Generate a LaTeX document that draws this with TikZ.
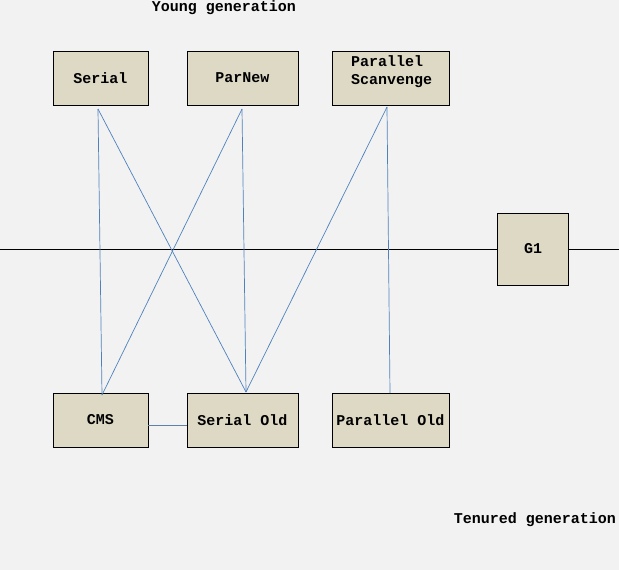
\documentclass[tikz,border=0pt]{standalone}
\usepackage{fontspec}
\setmainfont{Liberation Mono}
\begin{document}
\begin{tikzpicture}[x=1pt,y=-1pt,
  box/.style={draw=black,fill=boxfill,line width=0.8pt,inner sep=0pt,font=\bfseries\fontsize{15}{18}\selectfont},
  link/.style={draw=linkblue,line width=0.7pt},
  lbl/.style={font=\bfseries\fontsize{15}{18}\selectfont,inner sep=0pt}]
\definecolor{boxfill}{HTML}{DDD9C4}
\definecolor{linkblue}{HTML}{4F81BD}
\definecolor{bg}{HTML}{F2F2F2}
\fill[bg] (0,0) rectangle (619,570);
\useasboundingbox (0,0) rectangle (619,570);
% horizontal divider
\coordinate (lft) at (0,249);
\coordinate (rgt) at (619,249);
\node[box,minimum width=71,minimum height=72] (g1) at (533,249) {G1};
\draw[line width=0.8pt] (lft) -- (g1.west);
\draw[line width=0.8pt] (g1.east) -- (rgt);
% top boxes
\node[box,minimum width=95,minimum height=54] (serial) at (100.5,78) {Serial};
\node[box,minimum width=111,minimum height=54] (parnew) at (242.5,78) {ParNew};
\node[box,minimum width=117,minimum height=54] (ps) at (390.5,78) {};
\node[lbl,align=left,anchor=north west] (pstext) at (351,55) {Parallel\\Scanvenge};
% bottom boxes
\node[box,minimum width=95,minimum height=54] (cms) at (100.5,420) {CMS};
\node[box,minimum width=111,minimum height=54] (sold) at (242.5,420) {Serial Old};
\node[box,minimum width=117,minimum height=54] (pold) at (390.5,420) {Parallel Old};
% link endpoints
\coordinate (s1) at (98,109);
\coordinate (p1) at (242,109);
\coordinate (q1) at (387,107);
\coordinate (c1) at (102,395);
\coordinate (o1) at (246,392);
\coordinate (r1) at (390,393);
\draw[link] (s1) -- (c1);
\draw[link] (s1) -- (o1);
\draw[link] (p1) -- (c1);
\draw[link] (p1) -- (o1);
\draw[link] (q1) -- (o1);
\draw[link] (q1) -- (r1);
\draw[draw=linkblue!70!gray,line width=0.7pt] (cms.east |- 0,425) -- (sold.west |- 0,425);
% labels
\node[lbl] (young) at (224,8) {Young generation};
\node[lbl] (tenured) at (535,520) {Tenured generation};
\end{tikzpicture}
\end{document}
